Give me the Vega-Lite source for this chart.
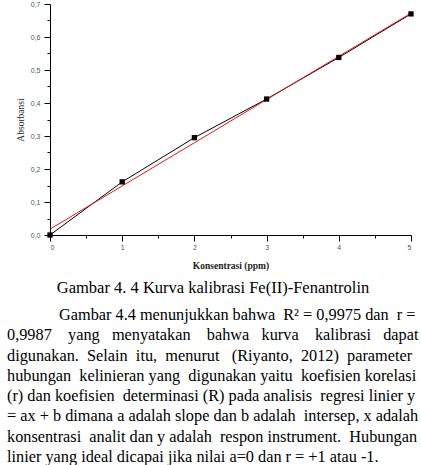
{
  "$schema": "https://vega.github.io/schema/vega-lite/v6.json",
  "background": "white",
  "padding": {"left": 6, "top": 0, "right": 0, "bottom": 0},
  "spacing": 10,
  "config": {"view": {"stroke": null}},
  "datasets": {
    "points": [
      {"conc": 0, "abs": 0.0},
      {"conc": 1, "abs": 0.161},
      {"conc": 2, "abs": 0.295},
      {"conc": 3, "abs": 0.412},
      {"conc": 4, "abs": 0.538},
      {"conc": 5, "abs": 0.670}
    ],
    "fit": [
      {"conc": 0, "abs": 0.0178},
      {"conc": 5, "abs": 0.6723}
    ],
    "para": [
      {"line": 1, "indent": 1, "text": "Gambar 4.4 menunjukkan bahwa\u00a0 R² = 0,9975 dan\u00a0 r ="},
      {"line": 2, "indent": 0, "text": "0,9987\u00a0\u00a0\u00a0 yang\u00a0\u00a0 menyatakan\u00a0\u00a0\u00a0 bahwa\u00a0\u00a0 kurva\u00a0\u00a0\u00a0 kalibrasi\u00a0\u00a0 dapat"},
      {"line": 3, "indent": 0, "text": "digunakan.\u00a0 Selain\u00a0 itu,\u00a0 menurut\u00a0\u00a0 (Riyanto,\u00a0 2012)\u00a0 parameter"},
      {"line": 4, "indent": 0, "text": "hubungan\u00a0 kelinieran yang\u00a0 digunakan yaitu\u00a0 koefisien korelasi"},
      {"line": 5, "indent": 0, "text": "(r) dan koefisien\u00a0 determinasi (R) pada analisis\u00a0 regresi linier y"},
      {"line": 6, "indent": 0, "text": "= ax + b dimana a adalah slope dan b adalah\u00a0 intersep, x adalah"},
      {"line": 7, "indent": 0, "text": "konsentrasi\u00a0 analit dan y adalah\u00a0 respon instrument.\u00a0 Hubungan"},
      {"line": 8, "indent": 0, "text": "linier yang ideal dicapai jika nilai a=0 dan r = +1 atau -1."}
    ]
  },
  "vconcat": [
    {
      "width": 361,
      "height": 231,
      "encoding": {
        "x": {
          "field": "conc", "type": "quantitative",
          "scale": {"domain": [0, 5], "nice": false, "zero": false},
          "axis": {
            "values": [0, 0.5, 1, 1.5, 2, 2.5, 3, 3.5, 4, 4.5, 5],
            "labelExpr": "datum.value % 1 != 0 ? '' : format(datum.value, 'd')",
            "tickSize": {"condition": {"test": "datum.value % 1 != 0", "value": 3}, "value": 6},
            "grid": false, "domainColor": "black", "tickColor": "black",
            "labelFont": "Liberation Sans", "labelFontSize": 7, "labelColor": "#555", "labelPadding": 2,
            "title": "Konsentrasi (ppm)", "titleFont": "Liberation Serif", "titleFontSize": 9.5,
            "titleFontWeight": "bold", "titleColor": "#222", "titlePadding": 10
          }
        },
        "y": {
          "field": "abs", "type": "quantitative",
          "scale": {"domain": [0, 0.7], "nice": false, "zero": false},
          "axis": {
            "values": [0, 0.05, 0.1, 0.15, 0.2, 0.25, 0.3, 0.35, 0.4, 0.45, 0.5, 0.55, 0.6, 0.65, 0.7],
            "labelExpr": "abs(datum.value*10 - round(datum.value*10)) > 0.01 ? '' : replace(format(datum.value, '.1f'), '.', ',')",
            "tickSize": {"condition": {"test": "abs(datum.value*10 - round(datum.value*10)) > 0.01", "value": 3}, "value": 6},
            "grid": false, "domainColor": "black", "tickColor": "black",
            "labelFont": "Liberation Sans", "labelFontSize": 7, "labelColor": "#555", "labelPadding": 4,
            "title": "Absorbansi", "titleFont": "Liberation Serif", "titleFontSize": 9.5,
            "titleFontWeight": "normal", "titleColor": "#222", "titlePadding": 5
          }
        }
      },
      "layer": [
        {"data": {"name": "points"}, "mark": {"type": "line", "color": "black", "strokeWidth": 1}},
        {"data": {"name": "fit"}, "mark": {"type": "line", "color": "#e8141b", "strokeWidth": 1}},
        {"data": {"name": "points"}, "mark": {"type": "square", "filled": true, "color": "black", "size": 28, "opacity": 1}},
        {
          "data": {"values": [{}]},
          "mark": {"type": "text", "align": "left", "baseline": "middle", "font": "Liberation Serif", "fontSize": 11.5, "fontWeight": "bold", "color": "#333"},
          "encoding": {"x": {"datum": 0.886}, "y": {"datum": 0.616}, "text": {"value": "y = 0.1309 x + 0.0178"}}
        },
        {
          "data": {"values": [{}]},
          "mark": {"type": "text", "align": "left", "baseline": "middle", "font": "Liberation Serif", "fontSize": 11.5, "color": "#444"},
          "encoding": {"x": {"datum": 0.886}, "y": {"datum": 0.554}, "text": {"value": "R² = 0.9975"}}
        }
      ]
    },
    {
      "width": 361,
      "height": 142,
      "title": {
        "text": "Gambar 4. 4 Kurva kalibrasi Fe(II)-Fenantrolin",
        "font": "Liberation Serif", "fontSize": 16.5, "fontWeight": "normal",
        "anchor": "middle", "color": "black", "offset": 10.5, "dx": -17.5
      },
      "data": {"name": "para"},
      "mark": {"type": "text", "align": "left", "baseline": "middle", "font": "Liberation Serif", "fontSize": 16.3, "color": "black"},
      "encoding": {
        "x": {"field": "indent", "type": "quantitative", "scale": {"domain": [0.827, 7.769], "nice": false, "zero": false}, "axis": null},
        "y": {"field": "line", "type": "quantitative", "scale": {"domain": [1, 8], "nice": false, "zero": false, "reverse": true}, "axis": null},
        "text": {"field": "text"}
      }
    }
  ]
}
